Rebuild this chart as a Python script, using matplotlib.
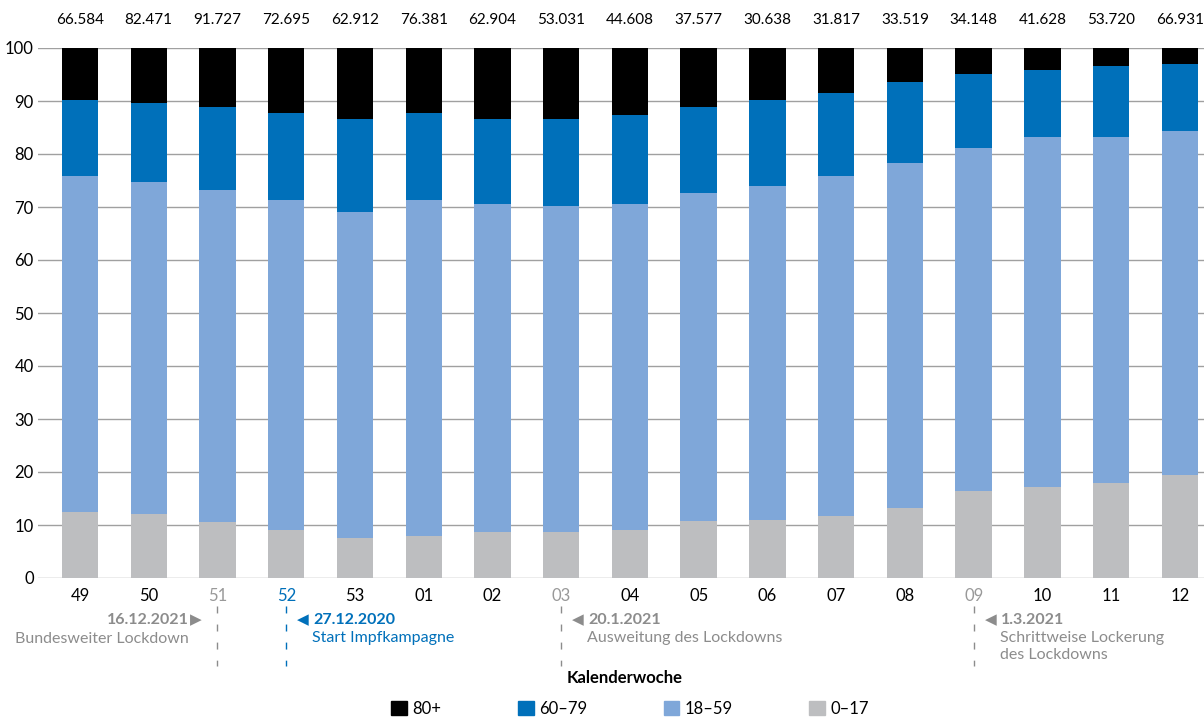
import matplotlib
matplotlib.use("Agg")
from matplotlib import pyplot as plt
from matplotlib.transforms import blended_transform_factory
from matplotlib.patches import Patch

plt.rcParams['font.family'] = ['Lato', 'DejaVu Sans']

weeks = ["49", "50", "51", "52", "53", "01", "02", "03", "04", "05", "06",
         "07", "08", "09", "10", "11", "12"]
totals = ["66.584", "82.471", "91.727", "72.695", "62.912", "76.381", "62.904",
          "53.031", "44.608", "37.577", "30.638", "31.817", "33.519", "34.148",
          "41.628", "53.720", "66.931"]

# Anteile in Prozent
age_0_17 = [12.4, 12.1, 10.6, 9.1, 7.5, 7.9, 8.7, 8.7, 9.1, 10.8, 10.9,
            11.7, 13.2, 16.4, 17.2, 17.9, 19.4]
age_18_59 = [63.4, 62.6, 62.6, 62.2, 61.6, 63.4, 61.9, 61.5, 61.5, 61.8, 63.1,
             64.1, 65.1, 64.7, 66.0, 65.3, 64.9]
age_60_79 = [14.4, 14.9, 15.7, 16.4, 17.5, 16.4, 16.0, 16.4, 16.8, 16.3, 16.2,
             15.7, 15.3, 14.0, 12.6, 13.4, 12.7]
age_80 = [100 - a - b - c for a, b, c in zip(age_0_17, age_18_59, age_60_79)]

tick_colors = {"51": "#999999", "03": "#999999", "09": "#999999", "52": "#0070BA"}

c_80 = "#000000"
c_60 = "#0070BA"
c_18 = "#7FA7D9"
c_0 = "#BDBEC0"
grey_txt = "#8C8C8C"

fig = plt.figure(figsize=(12.04, 7.18), dpi=100)
W, H = 1204, 718
x0, x1, ytop, ybot = 38, 1204, 48, 578
ax = fig.add_axes([x0 / W, 1 - ybot / H, (x1 - x0) / W, (ybot - ytop) / H])

xs = list(range(len(weeks)))
bw = 0.53
bottom = [0] * len(xs)
for vals, col in [(age_0_17, c_0), (age_18_59, c_18), (age_60_79, c_60), (age_80, c_80)]:
    ax.bar(xs, vals, bw, bottom=bottom, color=col, zorder=2)
    bottom = [b + v for b, v in zip(bottom, vals)]

ax.set_ylim(0, 100)
ax.set_xlim(-0.611, 16.35)
ax.set_yticks(range(0, 101, 10))
ax.yaxis.grid(True, color="#A0A0A0", linewidth=1, zorder=0)
ax.set_axisbelow(True)
for s in ax.spines.values():
    s.set_visible(False)
ax.tick_params(axis="both", length=0, labelsize=12)
ax.tick_params(axis="y", pad=3)
ax.tick_params(axis="x", pad=7)
ax.set_xticks(xs)
ax.set_xticklabels(weeks)
for lbl in ax.get_xticklabels():
    lbl.set_color(tick_colors.get(lbl.get_text(), "black"))

for x, t in zip(xs, totals):
    ax.text(x, 105.3, t, ha="center", va="center", fontsize=11, clip_on=False)

tr = blended_transform_factory(ax.transData, ax.transAxes)


def ypx(p):
    return (ybot - p) / (ybot - ytop)


def dx(px):
    return px / 68.75


# Ereignisse
for wk, col in [(2, "#8C8C8C"), (3, "#0070BA"), (7, "#8C8C8C"), (13, "#8C8C8C")]:
    ax.plot([wk, wk], [ypx(606), ypx(666)], transform=tr, clip_on=False,
            color=col, lw=1, dashes=(5, 8))

ax.text(2 - dx(29), ypx(620), "16.12.2021", transform=tr, ha="right", va="center",
        fontsize=11.5, fontweight="bold", color=grey_txt)
ax.text(2 - dx(28), ypx(620), "▶", transform=tr, ha="left", va="center",
        fontsize=11, color=grey_txt)
ax.text(2 - dx(29), ypx(639), "Bundesweiter Lockdown", transform=tr, ha="right",
        va="center", fontsize=11.5, color=grey_txt)

for wk, date, label, col in [(3, "27.12.2020", "Start Impfkampagne", "#0070BA"),
                             (7, "20.1.2021", "Ausweitung des Lockdowns", grey_txt),
                             (13, "1.3.2021", "Schrittweise Lockerung\ndes Lockdowns", grey_txt)]:
    ax.text(wk + dx(11), ypx(620), "◀", transform=tr, ha="left", va="center",
            fontsize=11, color=col)
    ax.text(wk + dx(27), ypx(620), date, transform=tr, ha="left", va="center",
            fontsize=11.5, fontweight="bold", color=col)
    ax.text(wk + dx(26), ypx(631), label, transform=tr, ha="left", va="top",
            fontsize=11.5, color=col, linespacing=1.3)

fig.text(625 / W, 1 - 678 / H, "Kalenderwoche", ha="center", va="center",
         fontsize=12, fontweight="bold")

handles = [Patch(color=c_80, label="80+"), Patch(color=c_60, label="60–79"),
           Patch(color=c_18, label="18–59"), Patch(color=c_0, label="0–17")]
fig.legend(handles=handles, loc="center", bbox_to_anchor=(630 / W, 1 - 709 / H),
           ncol=4, frameon=False, fontsize=12, handlelength=0.95, handleheight=0.95,
           handletextpad=0.3, columnspacing=4.6, borderpad=0)

fig.savefig("out.png", dpi=100)
